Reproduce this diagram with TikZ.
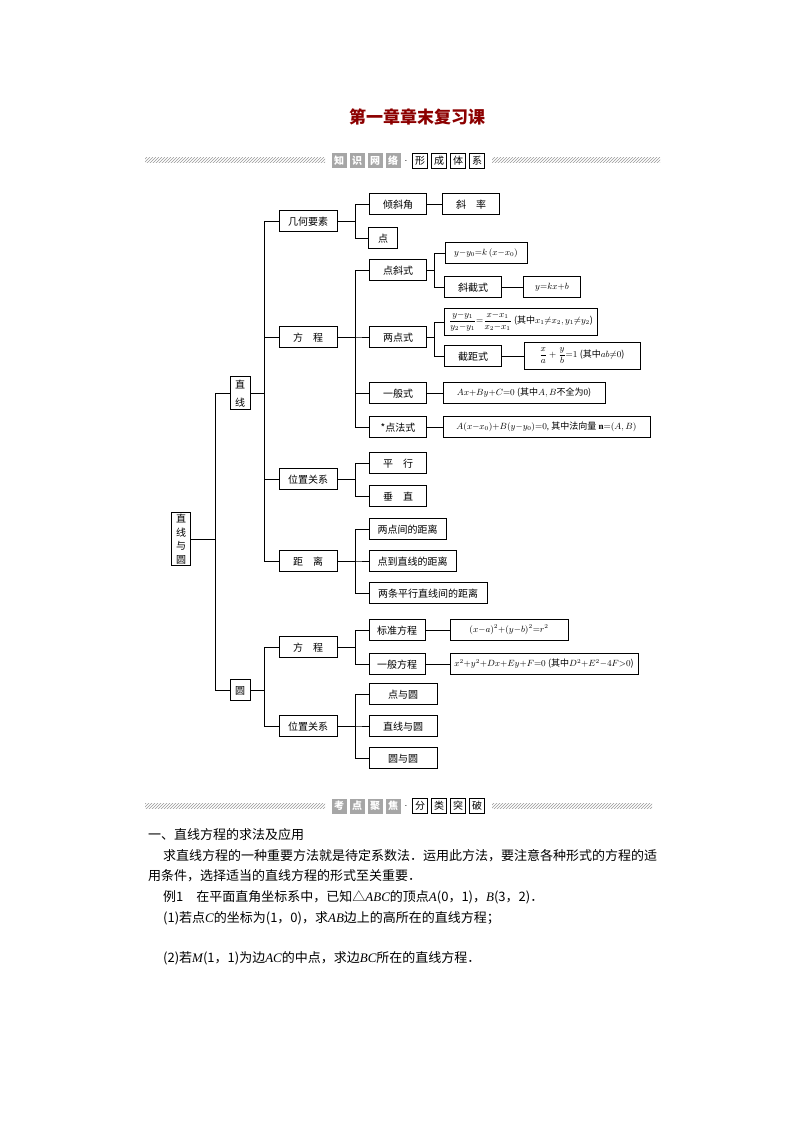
\documentclass[tikz,border=0pt]{standalone}
\usepackage{fontspec}
\setmainfont{Liberation Serif}
\newfontfamily\cjk{Noto Sans CJK SC}
\newcommand\lt[1]{{\rmfamily\itshape #1}}
\usetikzlibrary{patterns}
\begin{document}
\begin{tikzpicture}[x=1pt,y=-1pt,
  bx/.style={draw,line width=0.7pt,font=\cjk\fontsize{10}{12}\selectfont,minimum height=21,inner sep=2pt,text depth=0pt},
  fm/.style={draw,line width=0.7pt,font=\fontsize{9}{11}\selectfont,minimum height=21,inner sep=2pt},
  ln/.style={line width=0.6pt},
  hatch/.style={pattern=north east lines,pattern color=gray!80,draw=none},
  gbox/.style={fill=gray!70,text=white,font=\cjk\bfseries\fontsize{10}{10}\selectfont,minimum size=15,inner sep=0pt},
  wbox/.style={draw,font=\cjk\fontsize{10}{10}\selectfont,minimum size=15,inner sep=0pt},
  body/.style={font=\cjk\fontsize{13}{15}\selectfont,anchor=west,inner sep=0pt}]
\useasboundingbox (0,0) rectangle (794,1123);
\node[font=\cjk\bfseries\fontsize{17}{17}\selectfont,text=red!55!black] (title) at (417,117) {第一章章末复习课};
% banner 1
\fill[hatch] (145,158) rectangle (325,163);
\fill[hatch] (492,158) rectangle (660,163);
\foreach \t[count=\i] in {知,识,网,络}{\node[gbox] (ga\i) at (330+\i*18-9,161) {\t};}
\node[font=\bfseries] (dot1) at (406,161) {$\cdot$};
\foreach \t[count=\i] in {形,成,体,系}{\node[wbox] (gb\i) at (410+\i*19-9,161) {\t};}
% banner 2
\fill[hatch] (145,803) rectangle (325,808);
\fill[hatch] (492,803) rectangle (652,808);
\foreach \t[count=\i] in {考,点,聚,焦}{\node[gbox] (gc\i) at (330+\i*18-9,806) {\t};}
\node[font=\bfseries] (dot2) at (406,806) {$\cdot$};
\foreach \t[count=\i] in {分,类,突,破}{\node[wbox] (gd\i) at (410+\i*19-9,806) {\t};}
% tree
\node[bx,align=center,minimum width=19,inner sep=2pt,font=\cjk\fontsize{10}{13.5}\selectfont] (root) at (181,539) {直\\线\\与\\圆};
\node[bx,align=center,minimum width=20,inner sep=3pt,font=\cjk\fontsize{10}{18}\selectfont] (zx) at (240,393) {直\\线};
\node[bx,minimum width=20] (yuan) at (240,690) {圆};
\foreach \c in {zx,yuan}{\draw[ln] (root.east) -- ++(24,0) |- (\c.west);}
\node[bx,minimum width=58] (jh) at (308,221) {几何要素};
\node[bx,minimum width=58] (fc) at (308,337) {方\quad 程};
\node[bx,minimum width=58] (wz) at (308,479) {位置关系};
\node[bx,minimum width=58] (jl) at (308,561) {距\quad 离};
\foreach \c in {jh,fc,wz,jl}{\draw[ln] (zx.east) -- ++(14,0) |- (\c.west);}
\node[bx,minimum width=58] (yfc) at (308,647) {方\quad 程};
\node[bx,minimum width=58] (ywz) at (308,726) {位置关系};
\foreach \c in {yfc,ywz}{\draw[ln] (yuan.east) -- ++(14,0) |- (\c.west);}
% level 3
\node[bx,minimum width=57] (qxj) at (398,204) {倾斜角};
\node[bx,minimum width=29] (dian) at (383,238) {点};
\foreach \c in {qxj,dian}{\draw[ln] (jh.east) -- ++(18,0) |- (\c.west);}
\node[bx,minimum width=57] (xl) at (471,204) {斜\quad 率};
\draw[ln] (qxj.east) -- (xl.west);
\node[bx,minimum width=57] (dxs) at (398,270) {点斜式};
\node[bx,minimum width=57] (ldsh) at (398,337) {两点式};
\node[bx,minimum width=57] (ybs) at (398,393) {一般式};
\node[bx,minimum width=57] (dfs) at (398,427) {*点法式};
\foreach \c in {dxs,ldsh,ybs,dfs}{\draw[ln] (fc.east) -- ++(18,0) |- (\c.west);}
\node[bx,minimum width=57] (px) at (398,463) {平\quad 行};
\node[bx,minimum width=57] (cz) at (398,496) {垂\quad 直};
\foreach \c in {px,cz}{\draw[ln] (wz.east) -- ++(18,0) |- (\c.west);}
\node[bx,minimum width=77] (d1) at (407.5,529) {两点间的距离};
\node[bx,minimum width=87] (d2) at (412.5,561) {点到直线的距离};
\node[bx,minimum width=118] (d3) at (428,593) {两条平行直线间的距离};
\foreach \c in {d1,d2,d3}{\draw[ln] (jl.east) -- ++(18,0) |- (\c.west);}
\node[bx,minimum width=56] (bz) at (397,630) {标准方程};
\node[bx,minimum width=56] (yb) at (397,664) {一般方程};
\foreach \c in {bz,yb}{\draw[ln] (yfc.east) -- ++(18,0) |- (\c.west);}
\node[bx,minimum width=68] (dy) at (403,694) {点与圆};
\node[bx,minimum width=68] (zy) at (403,726) {直线与圆};
\node[bx,minimum width=68] (yy) at (403,758) {圆与圆};
\foreach \c in {dy,zy,yy}{\draw[ln] (ywz.east) -- ++(18,0) |- (\c.west);}
% level 4
\node[fm,minimum width=82] (f1) at (486,253) {$y{-}y_0{=}k\,(x{-}x_0)$};
\node[bx,minimum width=57] (xjs) at (473,287) {斜截式};
\foreach \c in {f1,xjs}{\draw[ln] (dxs.east) -- ++(7,0) |- (\c.west);}
\node[fm,minimum width=57] (f2) at (552,287) {$y{=}kx{+}b$};
\draw[ln] (xjs.east) -- (f2.west);
\node[fm,minimum width=153,minimum height=27,inner sep=1pt] (f3) at (521,322) {$\displaystyle\frac{y{-}y_1}{y_2{-}y_1}{=}\frac{x{-}x_1}{x_2{-}x_1}$ {\cjk(其中}$x_1{\neq}x_2,y_1{\neq}y_2${\cjk)}};
\node[bx,minimum width=57] (jjs) at (473,356) {截距式};
\foreach \c in {f3,jjs}{\draw[ln] (ldsh.east) -- ++(7,0) |- (\c.west);}
\node[fm,minimum width=116,minimum height=27,inner sep=1pt] (f4) at (582,356) {$\displaystyle\frac{x}{a}+\frac{y}{b}{=}1$ {\cjk(其中}$ab{\neq}0${\cjk)}};
\draw[ln] (jjs.east) -- (f4.west);
\node[fm,minimum width=162] (f5) at (524,393) {$Ax{+}By{+}C{=}0$\ {\cjk(其中}$A,B${\cjk 不全为}0{\cjk)}};
\draw[ln] (ybs.east) -- (f5.west);
\node[fm,minimum width=207] (f6) at (546.5,427) {$A(x{-}x_0){+}B(y{-}y_0){=}0$, {\cjk 其中法向量} $\mathbf{n}{=}(A,B)$};
\draw[ln] (dfs.east) -- (f6.west);
\node[fm,minimum width=118] (f7) at (509,630) {$(x{-}a)^2{+}(y{-}b)^2{=}r^2$};
\draw[ln] (bz.east) -- (f7.west);
\node[fm,minimum width=188] (f8) at (544,664) {$x^2{+}y^2{+}Dx{+}Ey{+}F{=}0$ {\cjk(其中}$D^2{+}E^2{-}4F{>}0${\cjk)}};
\draw[ln] (yb.east) -- (f8.west);
% body text
\node[body] (t1) at (148,835) {一、直线方程的求法及应用};
\node[body] (t2) at (163,856) {求直线方程的一种重要方法就是待定系数法．运用此方法，要注意各种形式的方程的适};
\node[body] (t3) at (148,876) {用条件，选择适当的直线方程的形式至关重要．};
\node[body] (t4) at (163,897) {例1\quad 在平面直角坐标系中，已知△\lt{ABC}的顶点\lt{A}(0，1)，\lt{B}(3，2)．};
\node[body] (t5) at (163,918) {(1)若点\lt{C}的坐标为(1，0)，求\lt{AB}边上的高所在的直线方程；};
\node[body] (t6) at (163,958) {(2)若\lt{M}(1，1)为边\lt{AC}的中点，求边\lt{BC}所在的直线方程．};
\end{tikzpicture}
\end{document}
